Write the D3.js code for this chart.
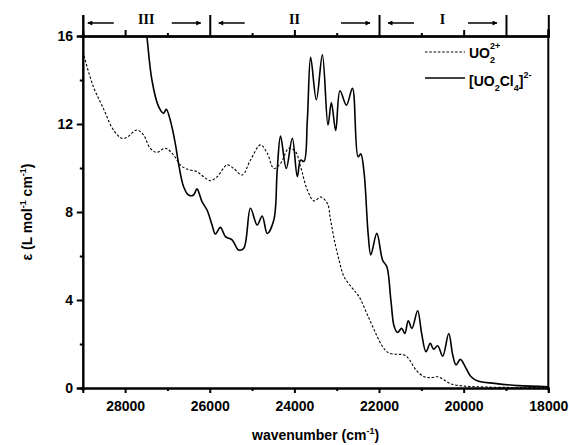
<!DOCTYPE html>
<html><head><meta charset="utf-8">
<script src="https://cdn.jsdelivr.net/npm/d3@7"></script>
<style>
body{margin:0;background:#fff;}
text{font-family:"Liberation Sans",Arial,sans-serif;font-weight:bold;fill:#000;}
</style></head>
<body><svg id="c" width="569" height="445"></svg>
<script>
// ---- data ----
const xMajorTicks = [28000, 26000, 24000, 22000, 20000, 18000];
const xMinorTicks = [27000, 25000, 23000, 21000, 19000];
const yMajorTicks = [0, 4, 8, 12, 16];
const yMinorTicks = [2, 6, 10, 14];
const topMajorTicks = [28000, 24000, 20000];
const topMinorTicks = [27000, 25000, 23000, 21000];
const regionLabels = ["III", "II", "I"];
const regionStart = [29000, 26000, 22000];
const regionEnd = [26000, 22000, 19000];
const seriesNames = ["UO2 2+", "[UO2Cl4]2-"];

const uo2 = [
 [29000,15.29],[28751,13.7],[28514,12.71],[28277,11.73],[28079,11.35],[27960,11.39],[27723,11.73],
 [27566,11.5],[27408,10.9],[27251,10.71],[27052,10.9],[26855,10.59],[26697,10.14],[26538,9.95],
 [26301,9.83],[26145,9.6],[25986,9.42],[25827,9.6],[25590,10.14],[25434,9.98],[25235,9.68],
 [25038,10.36],[24801,11.05],[24642,10.67],[24486,9.98],[24327,10.21],[24130,10.9],[23972,10.74],
 [23853,10.06],[23694,9.0],[23538,8.5],[23380,8.68],[23220,8.39],[23150,7.7],[23064,6.8],
 [22946,5.82],[22827,5.06],[22628,4.53],[22471,4.15],[22273,3.32],[22076,2.48],[21917,1.88],
 [21760,1.58],[21405,1.5],[21287,1.30],[21128,0.82],[20931,0.51],[20773,0.47],[20614,0.51],
 [20457,0.36],[20299,0.18],[20062,0.1],[19746,0.06],[19114,0.03],[18000,0.01]
];
const uo2cl4 = [
 [27560,17.3],[27486,16.0],[27367,14.0],[27211,12.8],[27092,12.49],[27028,12.67],[26934,12.18],
 [26815,11.12],[26737,10.2],[26618,9.15],[26500,8.77],[26382,8.77],[26303,9.05],[26183,8.47],
 [26064,8.09],[25946,7.41],[25867,7.0],[25749,7.3],[25630,6.88],[25472,6.73],[25315,6.27],
 [25196,6.35],[25038,8.17],[24879,7.41],[24761,7.82],[24642,7.03],[24486,7.64],[24406,9.9],
 [24327,11.45],[24192,9.98],[24050,11.35],[23931,9.61],[23853,10.36],[23774,10.3],[23694,12.18],
 [23616,15.03],[23481,13.1],[23339,15.14],[23206,11.95],[23126,12.97],[23024,11.7],[22922,13.51],
 [22770,12.86],[22628,13.62],[22495,10.51],[22431,10.64],[22352,9.76],[22258,7.03],[22194,6.05],
 [22052,7.03],[21917,5.82],[21815,5.51],[21720,4.0],[21642,2.79],[21562,2.52],[21467,2.71],
 [21389,2.48],[21310,3.06],[21223,2.71],[21088,3.51],[20993,2.48],[20891,1.65],[20789,2.03],
 [20709,1.76],[20614,1.92],[20495,1.45],[20353,2.48],[20258,1.5],[20180,1.05],[20078,1.30],
 [19943,0.89],[19825,0.51],[19667,0.32],[19272,0.21],[18718,0.11],[18000,0.06]
];

// ---- layout ----
const L = 82.8, R = 548.3, T = 36, B = 388;
const svg = d3.select("#c");
const x = d3.scaleLinear().domain([29000, 18000]).range([L, R]);
const y = d3.scaleLinear().domain([0, 16]).range([B, T]);

svg.append("clipPath").attr("id","clip").append("rect")
  .attr("x", L).attr("y", T).attr("width", R - L).attr("height", B - T);

const line = d3.line().x(d => x(d[0])).y(d => y(d[1])).curve(d3.curveCatmullRom.alpha(0.5));
const g = svg.append("g").attr("clip-path","url(#clip)");
g.append("path").datum(uo2).attr("d", line).attr("fill","none")
  .attr("stroke","#000").attr("stroke-width",1.1).attr("stroke-dasharray","2.5,1.8");
g.append("path").datum(uo2cl4).attr("d", line).attr("fill","none")
  .attr("stroke","#000").attr("stroke-width",1.6);

// bottom axis
const bottomAx = svg.append("g").attr("transform",`translate(0,${B})`);
bottomAx.call(d3.axisBottom(x).tickValues(xMajorTicks).tickSize(5).tickFormat(d3.format("d")));
bottomAx.append("g").call(d3.axisBottom(x).tickValues(xMinorTicks).tickSize(3).tickFormat(""));
// left axis
const leftAx = svg.append("g").attr("transform",`translate(${L},0)`);
leftAx.call(d3.axisLeft(y).tickValues(yMajorTicks).tickSize(6));
leftAx.append("g").call(d3.axisLeft(y).tickValues(yMinorTicks).tickSize(3).tickFormat(""));
// top axis
const topAx = svg.append("g").attr("transform",`translate(0,${T})`);
topAx.call(d3.axisTop(x).tickValues(topMajorTicks).tickSize(6).tickFormat(""));
topAx.append("g").call(d3.axisTop(x).tickValues(topMinorTicks).tickSize(3).tickFormat(""));
topAx.append("g").call(d3.axisTop(x).tickValues([...regionStart, regionEnd[regionEnd.length-1]]).tickSize(T-15).tickFormat(""));

svg.selectAll(".domain").attr("stroke","#000").attr("stroke-width",2);
svg.selectAll(".tick line").attr("stroke","#000").attr("stroke-width",2);
svg.selectAll(".tick text").style("font-size","14px").style("font-family","'Liberation Sans',Arial,sans-serif").style("font-weight","bold");
bottomAx.selectAll(".tick text").attr("dy","1.05em");
leftAx.selectAll(".tick text").attr("dx","-0.05em");
// right axis line
svg.append("line").attr("x1",R).attr("x2",R).attr("y1",T-7).attr("y2",B+1)
  .attr("stroke","#000").attr("stroke-width",2);

// region arrows & labels
const defs = svg.append("defs");
defs.append("marker").attr("id","ah").attr("viewBox","0 0 10 10").attr("refX",9).attr("refY",5)
  .attr("markerWidth",7).attr("markerHeight",5).attr("markerUnits","userSpaceOnUse").attr("orient","auto")
  .append("path").attr("d","M0,0L10,5L0,10Z").attr("fill","#000");
const ay = 23;
regionLabels.forEach((lab, i) => {
  const x0 = x(regionStart[i]), x1 = x(regionEnd[i]);
  const off0 = i === 0 ? 5 : 9;
  svg.append("line").attr("x1", x0 + off0 + 26).attr("x2", x0 + off0).attr("y1", ay).attr("y2", ay)
    .attr("stroke","#000").attr("stroke-width",1.5).attr("marker-end","url(#ah)");
  svg.append("line").attr("x1", x1 - 38).attr("x2", x1 - 9).attr("y1", ay).attr("y2", ay)
    .attr("stroke","#000").attr("stroke-width",1.5).attr("marker-end","url(#ah)");
  svg.append("text").attr("x", (x0 + x1) / 2).attr("y", 24).attr("text-anchor","middle")
    .style("font-family","'Liberation Serif','Times New Roman',serif").style("font-size","14px")
    .text(lab);
});

// legend
const lg = svg.append("g");
lg.append("line").attr("x1",425).attr("x2",465).attr("y1",52).attr("y2",52)
  .attr("stroke","#000").attr("stroke-width",1.1).attr("stroke-dasharray","2.5,1.8");
lg.append("line").attr("x1",425).attr("x2",465).attr("y1",78).attr("y2",78)
  .attr("stroke","#000").attr("stroke-width",1.6);
const t1 = lg.append("text").attr("x",469).attr("y",58).style("font-size","14px");
t1.append("tspan").text("UO");
t1.append("tspan").attr("dy",5).style("font-size","9px").text("2");
t1.append("tspan").attr("dx",-5).attr("dy",-14).style("font-size","9px").text("2+");
const t2 = lg.append("text").attr("x",469).attr("y",86).style("font-size","14px");
t2.append("tspan").text("[UO");
t2.append("tspan").attr("dy",5).style("font-size","9px").text("2");
t2.append("tspan").attr("dy",-5).text("Cl");
t2.append("tspan").attr("dy",5).style("font-size","9px").text("4");
t2.append("tspan").attr("dy",-5).text("]");
t2.append("tspan").attr("dy",-8).style("font-size","9px").text("2-");

// axis titles
const xt = svg.append("text").attr("x",(L+R)/2).attr("y",440).attr("text-anchor","middle").style("font-size","14px");
xt.append("tspan").text("wavenumber (cm");
xt.append("tspan").attr("dy",-6).style("font-size","9px").text("-1");
xt.append("tspan").attr("dy",6).text(")");
const yt = svg.append("text").attr("transform",`translate(32,${(T+B)/2}) rotate(-90)`).attr("text-anchor","middle").style("font-size","14px");
yt.append("tspan").text("ε (L mol");
yt.append("tspan").attr("dy",-6).style("font-size","9px").text("-1");
yt.append("tspan").attr("dy",6).text(" cm");
yt.append("tspan").attr("dy",-6).style("font-size","9px").text("-1");
yt.append("tspan").attr("dy",6).text(")");
</script></body></html>
